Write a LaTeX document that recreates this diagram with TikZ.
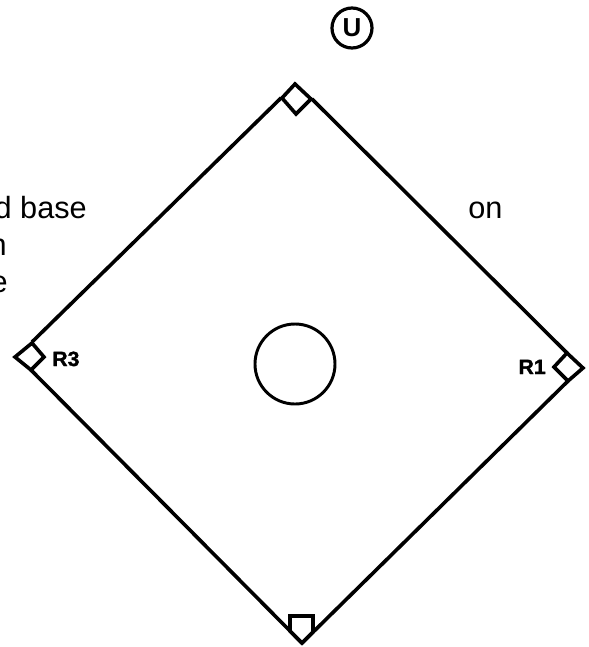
\documentclass[tikz,border=0pt]{standalone}
\usepackage{fontspec}
\setmainfont{Liberation Sans}
\tikzset{
  px/.style={x=0.75pt,y=-0.75pt},
  field/.style={line width=2.7pt,line join=miter,line cap=butt},
  basebox/.style={field,fill=white},
  note/.style={inner sep=0pt,font=\fontsize{23}{27}\selectfont,text=black},
  tag/.style={inner sep=0pt,font=\fontsize{15.5}{18}\selectfont\bfseries},
}
\begin{document}
\begin{tikzpicture}[px]
\clip (0,0) rectangle (589,647);
\fill[white] (0,0) rectangle (589,647);
% corners
\coordinate (topL) at (281,98);
\coordinate (topR) at (312,99);
\coordinate (rightT) at (567,353);
\coordinate (rightB) at (568,381);
\coordinate (leftT) at (32,342);
\coordinate (leftB) at (31,370);
\coordinate (tip) at (302,643);
% baselines
\draw[field] (topL) -- (leftT);
\draw[field] (topR) -- (rightT);
\draw[field] (rightB) -- (tip);
\draw[field] (leftB) -- (tip);
% bases
\draw[basebox] (295,84) -- (311,99) -- (296,114) -- (282,98) -- cycle;
\draw[basebox] (583,368) -- (567,353) -- (554,367) -- (568,381) -- cycle;
\draw[basebox] (15,357) -- (32,343) -- (44,357) -- (31,370) -- cycle;
\draw[basebox] (290,616) -- (313,616) -- (313,632) -- (tip) -- (290,631) -- cycle;
% mound and umpire
\node[circle,draw,line width=2.2pt,minimum size=60pt,inner sep=0pt] (mound) at (295,364) {};
\node[circle,draw,line width=2.4pt,minimum size=30pt,inner sep=0pt,font=\fontsize{19.5}{22}\selectfont\bfseries] (ump) at (352,28) {U};
% labels
\node[tag,anchor=base west] (r3) at (52,366) {\addfontfeatures{FakeBold=1.5,FakeStretch=1.03}R3};
\node[tag,anchor=base east] (r1) at (546,374) {\addfontfeatures{FakeBold=1.5,FakeStretch=1.03}R1};
% clipped text
\node[note,anchor=base east] (t1) at (87,218) {d base};
\node[note,anchor=base east] (t2) at (7,255) {n};
\node[note,anchor=base east] (t3) at (8,292) {e};
\node[note,anchor=base west] (t4) at (468,218) {on};
\end{tikzpicture}
\end{document}
